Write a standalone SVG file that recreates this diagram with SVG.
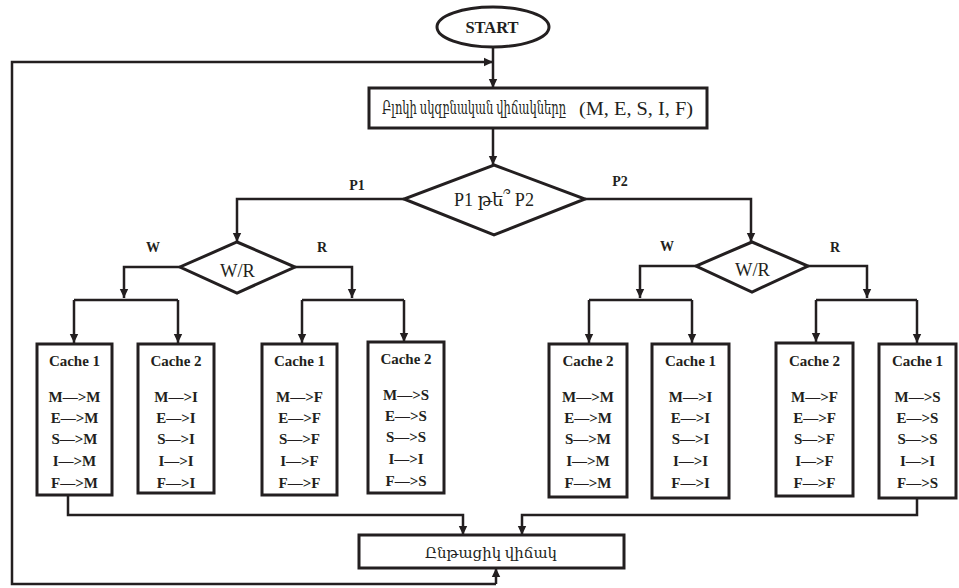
<svg xmlns="http://www.w3.org/2000/svg" width="959" height="588" viewBox="0 0 959 588">
  <defs>
    <marker id="arrow" markerUnits="userSpaceOnUse" markerWidth="10" markerHeight="10" refX="9" refY="5" orient="auto">
      <path d="M0,0.8 L9,5 L0,9.2 Z" fill="#231f20"/>
    </marker>
    <style>
      .shape { fill: #fff; stroke: #231f20; stroke-width: 3; }
      .line { fill: none; stroke: #231f20; stroke-width: 2.5; }
      .arr { marker-end: url(#arrow); }
      text { font-family: "Liberation Serif", "DejaVu Serif", serif; fill: #231f20; text-anchor: middle; }
      .b { font-weight: bold; }
      .lbl { font-size: 14px; font-weight: bold; }
      .cache { font-size: 15px; font-weight: bold; }
    </style>
  </defs>
  <rect width="959" height="588" fill="#fff"/>

  <!-- connectors -->
  <g id="connectors">
    <!-- start to initial states -->
    <path class="line arr" d="M493,47 V88"/>
    <!-- feedback loop from current state back to top -->
    <path class="line arr" d="M496,584 V568"/>
    <path class="line arr" d="M496,584 H12 V62 H493"/>
    <!-- initial states to processor choice -->
    <path class="line arr" d="M493,128 V165"/>
    <!-- P1 branch -->
    <path class="line arr" d="M404,199 H237 V242"/>
    <!-- P2 branch -->
    <path class="line arr" d="M585,199 H751 V242"/>
    <!-- left W/R -->
    <path class="line arr" d="M180,267 H124 V298"/>
    <path class="line" d="M74,300 H178"/>
    <path class="line arr" d="M74,300 V343"/>
    <path class="line arr" d="M178,300 V343"/>
    <path class="line arr" d="M295,267 H352 V298"/>
    <path class="line" d="M302,300 H404"/>
    <path class="line arr" d="M302,300 V343"/>
    <path class="line arr" d="M404,300 V342"/>
    <!-- right W/R -->
    <path class="line arr" d="M696,266 H640 V298"/>
    <path class="line" d="M589,300 H692"/>
    <path class="line arr" d="M589,300 V343"/>
    <path class="line arr" d="M692,300 V343"/>
    <path class="line arr" d="M808,266 H867 V298"/>
    <path class="line" d="M816,300 H917"/>
    <path class="line arr" d="M816,300 V342"/>
    <path class="line arr" d="M917,300 V343"/>
    <!-- caches to current state -->
    <path class="line arr" d="M68,496 V515 H463 V535"/>
    <path class="line arr" d="M917,498 V515 H522 V535"/>
  </g>

  <g id="start">
    <ellipse class="shape" cx="493" cy="27" rx="56" ry="20"/>
    <text x="492" y="33" class="b" font-size="16.5">START</text>
  </g>

  <g id="initial-states">
    <rect class="shape" x="369" y="88" width="338" height="40"/>
    <text y="114" font-size="18"><tspan x="474" textLength="184" lengthAdjust="spacingAndGlyphs">Բլոկի սկզբնական վիճակները</tspan><tspan x="636" y="115" textLength="114" lengthAdjust="spacingAndGlyphs">(M, E, S, I, F)</tspan></text>
  </g>

  <g id="processor-choice">
    <polygon class="shape" points="494,165 585,199 494,235 404,199"/>
    <text x="494" y="206" font-size="18" textLength="80" lengthAdjust="spacingAndGlyphs">P1 թե՞ P2</text>
  </g>
  <g id="branch-labels">
    <text x="357" y="190" class="lbl">P1</text>
    <text x="620" y="186" class="lbl">P2</text>
    <text x="153" y="252" class="lbl">W</text>
    <text x="322" y="252" class="lbl">R</text>
    <text x="667" y="251" class="lbl">W</text>
    <text x="835" y="252" class="lbl">R</text>
  </g>

  <g id="wr-p1">
    <polygon class="shape" points="237,242 295,267 237,293 180,267"/>
    <text x="237.5" y="277" font-size="18.5">W/R</text>
  </g>
  <g id="wr-p2">
    <polygon class="shape" points="752,242 808,266 752,292 696,266"/>
    <text x="752.5" y="276" font-size="18.5">W/R</text>
  </g>

  <!-- P1 write -->
  <g id="p1-w-cache1">
    <rect class="shape" x="37" y="344" width="75" height="151"/>
    <text class="cache" x="74.5"><tspan x="74.5" y="366">Cache 1</tspan><tspan x="74.5" y="402">M—&gt;M</tspan><tspan x="74.5" y="423">E—&gt;M</tspan><tspan x="74.5" y="444">S—&gt;M</tspan><tspan x="74.5" y="466">I—&gt;M</tspan><tspan x="74.5" y="488">F—&gt;M</tspan></text>
  </g>
  <g id="p1-w-cache2">
    <rect class="shape" x="138" y="344" width="76" height="149"/>
    <text class="cache" x="176"><tspan x="176" y="366">Cache 2</tspan><tspan x="176" y="402">M—&gt;I</tspan><tspan x="176" y="423">E—&gt;I</tspan><tspan x="176" y="444">S—&gt;I</tspan><tspan x="176" y="466">I—&gt;I</tspan><tspan x="176" y="488">F—&gt;I</tspan></text>
  </g>
  <!-- P1 read -->
  <g id="p1-r-cache1">
    <rect class="shape" x="262" y="344" width="75" height="151"/>
    <text class="cache" x="299.5"><tspan x="299.5" y="366">Cache 1</tspan><tspan x="299.5" y="402">M—&gt;F</tspan><tspan x="299.5" y="423">E—&gt;F</tspan><tspan x="299.5" y="444">S—&gt;F</tspan><tspan x="299.5" y="466">I—&gt;F</tspan><tspan x="299.5" y="488">F—&gt;F</tspan></text>
  </g>
  <g id="p1-r-cache2">
    <rect class="shape" x="368" y="342" width="76" height="151"/>
    <text class="cache" x="406"><tspan x="406" y="364">Cache 2</tspan><tspan x="406" y="400">M—&gt;S</tspan><tspan x="406" y="421">E—&gt;S</tspan><tspan x="406" y="442">S—&gt;S</tspan><tspan x="406" y="464">I—&gt;I</tspan><tspan x="406" y="486">F—&gt;S</tspan></text>
  </g>
  <!-- P2 write -->
  <g id="p2-w-cache2">
    <rect class="shape" x="549" y="344" width="78" height="153"/>
    <text class="cache" x="588"><tspan x="588" y="366">Cache 2</tspan><tspan x="588" y="402">M—&gt;M</tspan><tspan x="588" y="423">E—&gt;M</tspan><tspan x="588" y="444">S—&gt;M</tspan><tspan x="588" y="466">I—&gt;M</tspan><tspan x="588" y="488">F—&gt;M</tspan></text>
  </g>
  <g id="p2-w-cache1">
    <rect class="shape" x="652" y="344" width="77" height="154"/>
    <text class="cache" x="690.5"><tspan x="690.5" y="366">Cache 1</tspan><tspan x="690.5" y="402">M—&gt;I</tspan><tspan x="690.5" y="423">E—&gt;I</tspan><tspan x="690.5" y="444">S—&gt;I</tspan><tspan x="690.5" y="466">I—&gt;I</tspan><tspan x="690.5" y="488">F—&gt;I</tspan></text>
  </g>
  <!-- P2 read -->
  <g id="p2-r-cache2">
    <rect class="shape" x="776" y="343" width="77" height="153"/>
    <text class="cache" x="814.5"><tspan x="814.5" y="366">Cache 2</tspan><tspan x="814.5" y="402">M—&gt;F</tspan><tspan x="814.5" y="423">E—&gt;F</tspan><tspan x="814.5" y="444">S—&gt;F</tspan><tspan x="814.5" y="466">I—&gt;F</tspan><tspan x="814.5" y="488">F—&gt;F</tspan></text>
  </g>
  <g id="p2-r-cache1">
    <rect class="shape" x="879" y="344" width="77" height="154"/>
    <text class="cache" x="917.5"><tspan x="917.5" y="366">Cache 1</tspan><tspan x="917.5" y="402">M—&gt;S</tspan><tspan x="917.5" y="423">E—&gt;S</tspan><tspan x="917.5" y="444">S—&gt;S</tspan><tspan x="917.5" y="466">I—&gt;I</tspan><tspan x="917.5" y="488">F—&gt;S</tspan></text>
  </g>

  <g id="current-state">
    <rect class="shape" x="359" y="535" width="265" height="33"/>
    <text x="491" y="558" font-size="15" textLength="132" lengthAdjust="spacingAndGlyphs">Ընթացիկ վիճակ</text>
  </g>
</svg>
